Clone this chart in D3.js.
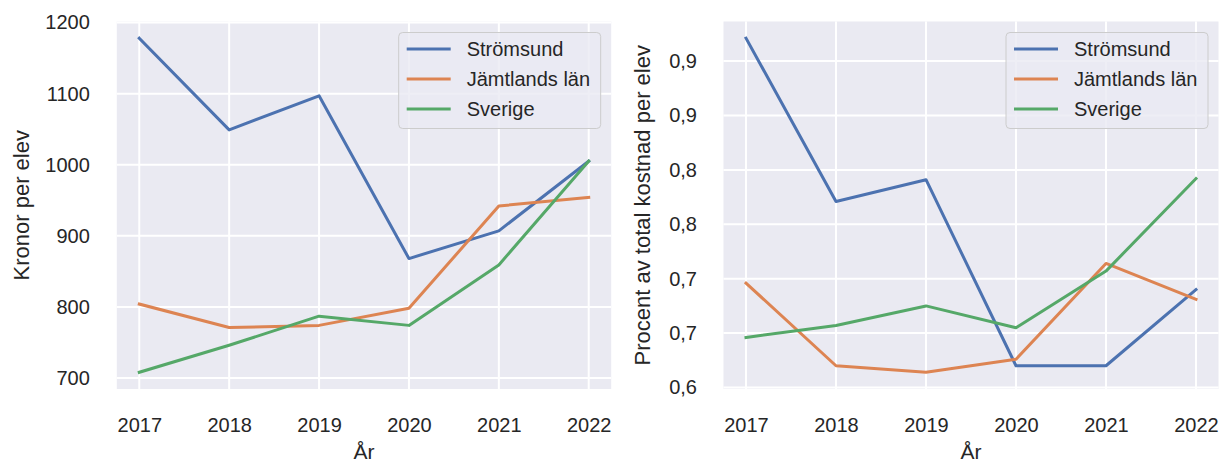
<!DOCTYPE html>
<html>
<head>
<meta charset="utf-8">
<script src="https://cdn.jsdelivr.net/npm/d3@7"></script>
<style>
  html, body { margin: 0; padding: 0; background: #ffffff; }
  svg { display: block; font-family: "Liberation Sans", Arial, sans-serif; }
</style>
</head>
<body>
<svg id="chart" width="1221" height="464"></svg>
<script>
// ---- data ----
const years = [2017, 2018, 2019, 2020, 2021, 2022];
const seriesNames = ["Strömsund", "Jämtlands län", "Sverige"];
const seriesColors = ["#4c72b0", "#dd8452", "#55a868"];

const kronorStromsund = [1178, 1049, 1097, 868, 907, 1005];
const kronorJamtland  = [804, 771, 774, 798, 942, 954];
const kronorSverige   = [708, 746, 787, 774, 859, 1005];

const andelStromsund = [0.921, 0.771, 0.791, 0.620, 0.620, 0.690];
const andelJamtland  = [0.696, 0.620, 0.614, 0.626, 0.714, 0.681];
const andelSverige   = [0.646, 0.657, 0.675, 0.655, 0.707, 0.792];

const leftTickValues = [700, 800, 900, 1000, 1100, 1200];
const leftTickLabels = ["700", "800", "900", "1000", "1100", "1200"];
const rightTickValues = [0.60, 0.65, 0.70, 0.75, 0.80, 0.85, 0.90];
const rightTickLabels = ["0,6", "0,7", "0,7", "0,8", "0,8", "0,9", "0,9"];
const xTickLabels = ["2017", "2018", "2019", "2020", "2021", "2022"];

const xTitle = "År";
const leftYTitle = "Kronor per elev";
const rightYTitle = "Procent av total kostnad per elev";

// ---- drawing ----
const svg = d3.select("#chart");
const textColor = "#262626";

function padDomain(ext, frac) {
  const span = ext[1] - ext[0];
  return [ext[0] - span * frac, ext[1] + span * frac];
}

function drawPanel(cfg) {
  const g = svg.append("g");
  const x = d3.scaleLinear()
    .domain(padDomain(d3.extent(years), 0.05))
    .range([cfg.left, cfg.right]);
  const allVals = cfg.series.flat();
  const y = d3.scaleLinear()
    .domain(padDomain(d3.extent(allVals), 0.05))
    .range([cfg.bottom, cfg.top]);

  // background
  g.append("rect")
    .attr("x", cfg.left).attr("y", cfg.top)
    .attr("width", cfg.right - cfg.left).attr("height", cfg.bottom - cfg.top)
    .attr("fill", "#eaeaf2");

  // grid
  const grid = g.append("g");
  grid.selectAll("line.gx").data(years).join("line")
    .attr("x1", d => x(d)).attr("x2", d => x(d))
    .attr("y1", cfg.top).attr("y2", cfg.bottom)
    .attr("stroke", "#ffffff").attr("stroke-width", 2);
  grid.selectAll("line.gy").data(cfg.tickValues.filter(v => y(v) <= cfg.bottom && y(v) >= cfg.top)).join("line")
    .attr("x1", cfg.left).attr("x2", cfg.right)
    .attr("y1", d => y(d)).attr("y2", d => y(d))
    .attr("stroke", "#ffffff").attr("stroke-width", 2);

  // axes
  const xAxis = d3.axisBottom(x).tickValues(years)
    .tickFormat((d, i) => xTickLabels[i]).tickSize(0).tickPadding(29);
  const xg = g.append("g").attr("transform", `translate(0,${cfg.bottom})`).call(xAxis);
  xg.select(".domain").remove();
  xg.selectAll("text").attr("font-size", 20).attr("fill", textColor)
    .attr("font-family", "Liberation Sans, Arial, sans-serif");

  const yAxis = d3.axisLeft(y).tickValues(cfg.tickValues)
    .tickFormat((d, i) => cfg.tickLabels[i]).tickSize(0).tickPadding(cfg.yPad);
  const yg = g.append("g").attr("transform", `translate(${cfg.left},0)`).call(yAxis);
  yg.select(".domain").remove();
  yg.selectAll("text").attr("font-size", 20).attr("fill", textColor)
    .attr("font-family", "Liberation Sans, Arial, sans-serif");

  // axis titles
  g.append("text")
    .attr("x", (cfg.left + cfg.right) / 2).attr("y", 459)
    .attr("text-anchor", "middle").attr("font-size", 21).attr("fill", textColor)
    .text(xTitle);
  g.append("text")
    .attr("transform", `translate(${cfg.yTitleX},${(cfg.top + cfg.bottom) / 2}) rotate(-90)`)
    .attr("text-anchor", "middle").attr("font-size", 22).attr("fill", textColor)
    .text(cfg.yTitle);

  // lines
  const line = d3.line().x((d, i) => x(years[i])).y(d => y(d));
  cfg.series.forEach((s, k) => {
    g.append("path").datum(s)
      .attr("d", line)
      .attr("fill", "none")
      .attr("stroke", seriesColors[k])
      .attr("stroke-width", 3)
      .attr("stroke-linejoin", "round")
      .attr("stroke-linecap", "square");
  });

  // legend
  const lw = 202, lh = 96;
  const lx = cfg.right - 10.5 - lw, ly = cfg.top + 11;
  const lg = g.append("g");
  lg.append("rect")
    .attr("x", lx).attr("y", ly).attr("width", lw).attr("height", lh)
    .attr("rx", 4).attr("ry", 4)
    .attr("fill", "#eaeaf2").attr("fill-opacity", 0.8)
    .attr("stroke", "#cccccc").attr("stroke-width", 1);
  seriesNames.forEach((name, k) => {
    const ry = ly + 16.5 + k * 30;
    lg.append("line")
      .attr("x1", lx + 8).attr("x2", lx + 52)
      .attr("y1", ry).attr("y2", ry)
      .attr("stroke", seriesColors[k]).attr("stroke-width", 3);
    lg.append("text")
      .attr("x", lx + 68).attr("y", ry)
      .attr("dominant-baseline", "central")
      .attr("font-size", 20).attr("fill", textColor)
      .text(name);
  });
}

drawPanel({
  left: 116.8, right: 611.2, top: 21.5, bottom: 389,
  series: [kronorStromsund, kronorJamtland, kronorSverige],
  tickValues: leftTickValues, tickLabels: leftTickLabels,
  yPad: 27, yTitle: leftYTitle, yTitleX: 29
});
drawPanel({
  left: 723.5, right: 1218.5, top: 21.5, bottom: 389,
  series: [andelStromsund, andelJamtland, andelSverige],
  tickValues: rightTickValues, tickLabels: rightTickLabels,
  yPad: 26.5, yTitle: rightYTitle, yTitleX: 650
});
</script>
</body>
</html>
